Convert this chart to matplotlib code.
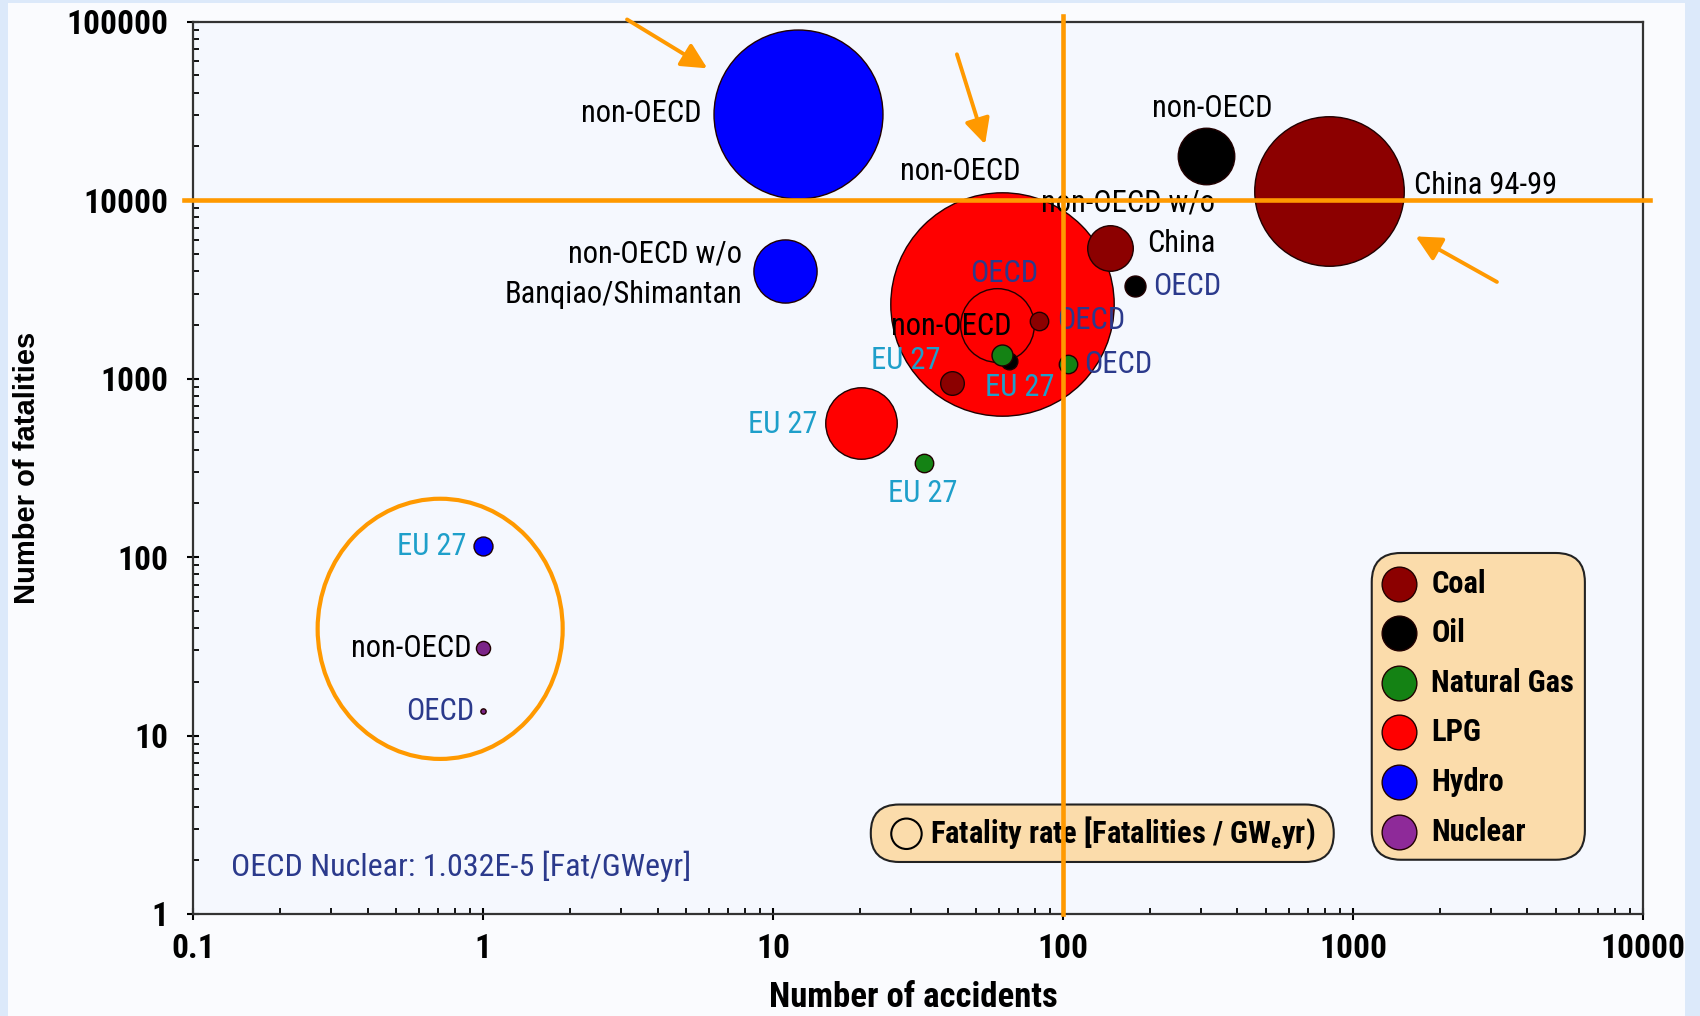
import numpy as np
import matplotlib
matplotlib.use('Agg')
import matplotlib.pyplot as plt
import matplotlib.font_manager as fm
from matplotlib.patches import Ellipse, FancyBboxPatch, Rectangle
from matplotlib.ticker import LogLocator, NullFormatter

#### fonts: narrow Arial look if we have one
names = set(f.name for f in fm.fontManager.ttflist)
NARROW = 'Liberation Sans'
fs = 0.84
for cand in ['Liberation Sans Narrow', 'Arial Narrow', 'Roboto Condensed',
             'Noto Sans Condensed', 'Open Sans Condensed', 'DejaVu Sans Condensed']:
    if cand in names:
        NARROW = cand
        fs = 1.0
        break
plt.rcParams['font.family'] = [NARROW, 'DejaVu Sans']
plt.rcParams['mathtext.fontset'] = 'custom'
plt.rcParams['mathtext.rm'] = NARROW + ':bold'
plt.rcParams['mathtext.bf'] = NARROW + ':bold'

#### data
# energy chains
chains = ['Coal', 'Oil', 'Natural Gas', 'LPG', 'Hydro', 'Nuclear']
chain_colors = ['#8c0000', '#000000', '#148214', '#ff0000', '#0000ff', '#8e2a99']

# coal
coal_acc = [826, 145, 82.9, 41.3]
coal_fat = [11270, 5370, 2105, 948]
coal_rate = [560, 52, 8.5, 14]
coal_lab = ['China 94-99', 'non-OECD w/o\nChina', 'OECD', 'EU 27']
# oil
oil_acc = [312, 177, 65.1]
oil_fat = [17650, 3296, 1254]
oil_rate = [80, 11, 7]
oil_lab = ['non-OECD', 'OECD', 'EU 27']
# natural gas
gas_acc = [61.8, 104.5, 33.3]
gas_fat = [1364, 1203, 337]
gas_rate = [11, 8.5, 8.5]
gas_lab = ['non-OECD', 'OECD', 'EU 27']
# LPG
lpg_acc = [61.8, 59.3, 20.2]
lpg_fat = [2634, 1991, 565]
lpg_rate = [1250, 136, 128]
lpg_lab = ['non-OECD', 'OECD', 'EU 27']
# hydro
hyd_acc = [12.25, 11.05, 1.0]
hyd_fat = [30450, 4008, 115]
hyd_rate = [715, 100, 9]
hyd_lab = ['non-OECD', 'non-OECD w/o\nBanqiao/Shimantan', 'EU 27']
# nuclear
nuc_acc = [1.0, 1.0]
nuc_fat = [30.8, 13.7]
nuc_rate = [5.0, 0.7]
nuc_lab = ['non-OECD', 'OECD']

x_ticks = [0.1, 1, 10, 100, 1000, 10000]
x_tick_labels = ['0.1', '1', '10', '100', '1000', '10000']
y_ticks = [1, 10, 100, 1000, 10000, 100000]
y_tick_labels = ['1', '10', '100', '1000', '10000', '100000']

ORANGE = '#ff9900'
NAVY = '#2b3a8c'
TEAL = '#1e9fca'
lab_col = {'non-OECD': 'black', 'OECD': NAVY, 'EU 27': TEAL}

# label offsets (points) and alignment for each bubble
coal_off = [(61, 4, 'left'), (76, 18, 'right'), (13, 0, 'left'), (-33, 16, 'center')]
oil_off = [(4, 34, 'center'), (13, 0, 'left'), (8, -19, 'center')]
gas_off = [(-37, 20, 'center'), (11, 0, 'left'), (-1, -22, 'center')]
lpg_off = [(-30, 95, 'center'), (5, 37, 'center'), (-32, -1, 'right')]
hyd_off = [(-70, 0, 'right'), (-31, -2, 'right'), (-12, 0, 'right')]
nuc_off = [(-8, 0, 'right'), (-6, 0, 'right')]

#### figure
fig = plt.figure(figsize=(17, 10.16), dpi=100, facecolor='#dce9fa')
fig.add_artist(Rectangle((8/1700, 0), 1677/1700, 1-3/1016, transform=fig.transFigure,
                         fc='#fafbfe', ec='none', zorder=-10))
ax = fig.add_axes([0.1135, 0.1004, 0.8529, 0.8782])
ax.set_facecolor('#f5f8fe')
ax.set_xscale('log')
ax.set_yscale('log')
ax.set_xlim(0.1, 10000)
ax.set_ylim(1, 100000)

series = [(lpg_acc, lpg_fat, lpg_rate, lpg_lab, lpg_off, chain_colors[3]),
          (hyd_acc, hyd_fat, hyd_rate, hyd_lab, hyd_off, chain_colors[4]),
          (coal_acc, coal_fat, coal_rate, coal_lab, coal_off, chain_colors[0]),
          (oil_acc, oil_fat, oil_rate, oil_lab, oil_off, chain_colors[1]),
          (gas_acc, gas_fat, gas_rate, gas_lab, gas_off, chain_colors[2]),
          (nuc_acc, nuc_fat, nuc_rate, nuc_lab, nuc_off, '#7b2488')]

z = 2
for acc, fat, rate, lab, off, col in series:
    for i in np.argsort(rate)[::-1]:
        ax.scatter(acc[i], fat[i], s=rate[i]*20.7, c=col, edgecolors='#200000',
                   linewidths=1.0, zorder=z, clip_on=False)
        z += 0.01
for acc, fat, rate, lab, off, col in series:
    for i in range(len(acc)):
        key = lab[i] if lab[i] in lab_col else 'non-OECD'
        ax.annotate(lab[i], (acc[i], fat[i]), xytext=off[i][:2], textcoords='offset points',
                    ha=off[i][2], va='center', multialignment='right', linespacing=1.5,
                    fontsize=22*fs, color=lab_col[key], zorder=5)

# orange reference lines, arrows and circle
ax.axhline(10000, xmin=-0.006, xmax=1.005, color=ORANGE, lw=3.3, zorder=10, clip_on=False)
ax.axvline(100, ymin=0, ymax=1.006, color=ORANGE, lw=3.3, zorder=10, clip_on=False)
arr = dict(arrowstyle='-|>,head_length=0.7,head_width=0.35', color=ORANGE, lw=2.8,
           mutation_scale=22, shrinkA=0, shrinkB=0)
ax.annotate('', xy=(5.94, 54800), xytext=(3.14, 103000), arrowprops=arr, annotation_clip=False, zorder=10)
ax.annotate('', xy=(53.9, 20570), xytext=(43.1, 65700), arrowprops=arr, annotation_clip=False, zorder=10)
ax.annotate('', xy=(1645, 6270), xytext=(3138, 3483), arrowprops=arr, annotation_clip=False, zorder=10)
ax.add_patch(Ellipse((0.1705, 0.3196), 0.169, 0.2916, transform=ax.transAxes,
                     fill=False, ec=ORANGE, lw=3.0, zorder=9))

ax.text(0.0262, 0.0535, 'OECD Nuclear: 1.032E-5 [Fat/GWeyr]', transform=ax.transAxes,
        fontsize=23*fs, color=NAVY, va='center', ha='left')

#### legend boxes
asp = (0.8529*1700) / (0.8782*1016)
ax.add_patch(FancyBboxPatch((0.813, 0.0608), 0.147, 0.3438, transform=ax.transAxes,
                            boxstyle='round,pad=0,rounding_size=0.02', mutation_aspect=asp,
                            fc='#fbdcab', ec='#222222', lw=1.5, zorder=6))
leg_y = [0.3694, 0.3147, 0.2588, 0.2041, 0.1482, 0.0923]
for name, col, yy in zip(chains, chain_colors, leg_y):
    ax.scatter(0.8317, yy, s=625, c=col, edgecolors='#200000', linewidths=1.0,
               transform=ax.transAxes, zorder=7, clip_on=False)
    ax.text(0.8541, yy, name, transform=ax.transAxes, fontsize=22*fs, fontweight='bold',
            va='center', ha='left', zorder=7)

ax.add_patch(FancyBboxPatch((0.4675, 0.0583), 0.3193, 0.0644, transform=ax.transAxes,
                            boxstyle='round,pad=0,rounding_size=0.0195', mutation_aspect=asp,
                            fc='#fbdcab', ec='#222222', lw=1.5, zorder=6))
ax.scatter(0.4921, 0.0899, s=480, facecolors='none', edgecolors='black', linewidths=1.5,
           transform=ax.transAxes, zorder=7, clip_on=False)
ax.text(0.5086, 0.0899, r'Fatality rate [Fatalities / GW$_\mathrm{e}$yr)', transform=ax.transAxes,
        fontsize=22*fs, fontweight='bold', va='center', ha='left', zorder=7)

#### axes styling
for s in ax.spines.values():
    s.set_color('#333333')
    s.set_linewidth(1.6)
ax.set_xticks(x_ticks, x_tick_labels)
ax.set_yticks(y_ticks, y_tick_labels)
ax.xaxis.set_minor_locator(LogLocator(base=10, subs=np.arange(2, 10)))
ax.yaxis.set_minor_locator(LogLocator(base=10, subs=np.arange(2, 10)))
ax.xaxis.set_minor_formatter(NullFormatter())
ax.yaxis.set_minor_formatter(NullFormatter())
ax.tick_params(which='major', direction='inout', length=8, width=1.5, labelsize=24*fs, pad=10)
ax.tick_params(which='minor', direction='in', length=4, width=1.3)
ax.tick_params(axis='y', which='major', pad=14)
for t in ax.get_xticklabels() + ax.get_yticklabels():
    t.set_fontweight('bold')

ax.set_xlabel('Number of accidents', fontsize=25*fs, fontweight='bold', va='center')
ax.xaxis.set_label_coords(0.4966, -0.094)
ax.set_ylabel('Number of fatalities', fontsize=21, fontweight='bold', va='center',
              family=['Liberation Sans', 'DejaVu Sans'])
ax.yaxis.set_label_coords(-0.1145, 0.5)

fig.savefig('out.png', dpi=100, facecolor=fig.get_facecolor())
